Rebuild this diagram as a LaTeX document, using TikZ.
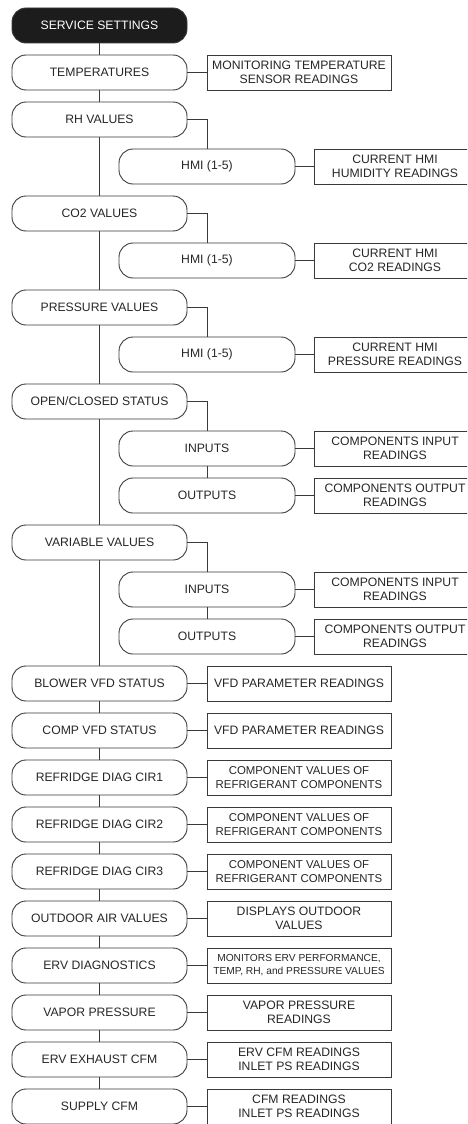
\documentclass[tikz,border=0pt]{standalone}
\usepackage{fontspec}
\setmainfont{Liberation Sans}
\usepackage{xcolor}
\usetikzlibrary{positioning}
\definecolor{svcline}{HTML}{3A3A3A}
\definecolor{svcdark}{HTML}{1C1C1C}
\tikzset{
  menu/.style={draw=svcline, line width=0.9pt, rounded corners=14pt, minimum width=175pt, minimum height=35pt, inner sep=0pt, outer sep=0pt, align=center, text=black!85, font=\fontsize{12.2}{14.5}\selectfont},
  topmenu/.style={menu, fill=svcdark, text=white},
  submenu/.style={menu, minimum width=176pt},
  info/.style={draw=svcline, line width=0.9pt, minimum width=184pt, minimum height=35pt, inner sep=0pt, outer sep=0pt, align=center, text=black!85, font=\fontsize{12.2}{14.5}\selectfont},
  smallinfo/.style={info, font=\fontsize{11.4}{13.7}\selectfont},
  tinyinfo/.style={info, font=\fontsize{10.2}{13}\selectfont},
  subinfo/.style={info, minimum width=162pt},
  link/.style={draw=svcline, line width=0.9pt}
}

\begin{document}
\begin{tikzpicture}
  \useasboundingbox (0,0) rectangle (467pt,-1124pt);
  \clip (0,0) rectangle (467pt,-1124pt);

  % main column
  \node[topmenu] (svc) at (99.5pt,-25.5pt) {SERVICE SETTINGS};
  \node[menu, below=12pt of svc] (temps) {TEMPERATURES};
  \node[info, right=20pt of temps] (tempsR) {MONITORING TEMPERATURE\\SENSOR READINGS};

  \node[menu, below=12pt of temps] (rh) {RH VALUES};
  \node[submenu, below=12pt of rh, xshift=107.5pt] (rhHmi) {HMI (1-5)};
  \node[subinfo, right=19pt of rhHmi] (rhHmiR) {CURRENT HMI\\HUMIDITY READINGS};

  \node[menu, below=12pt of rhHmi, xshift=-107.5pt] (co2) {CO2 VALUES};
  \node[submenu, below=12pt of co2, xshift=107.5pt] (co2Hmi) {HMI (1-5)};
  \node[subinfo, right=19pt of co2Hmi] (co2HmiR) {CURRENT HMI\\CO2 READINGS};

  \node[menu, below=12pt of co2Hmi, xshift=-107.5pt] (pres) {PRESSURE VALUES};
  \node[submenu, below=12pt of pres, xshift=107.5pt] (presHmi) {HMI (1-5)};
  \node[subinfo, right=19pt of presHmi] (presHmiR) {CURRENT HMI\\PRESSURE READINGS};

  \node[menu, below=12pt of presHmi, xshift=-107.5pt] (oc) {OPEN/CLOSED STATUS};
  \node[submenu, below=12pt of oc, xshift=107.5pt] (ocIn) {INPUTS};
  \node[subinfo, right=19pt of ocIn] (ocInR) {COMPONENTS INPUT\\READINGS};
  \node[submenu, below=12pt of ocIn] (ocOut) {OUTPUTS};
  \node[subinfo, right=19pt of ocOut] (ocOutR) {COMPONENTS OUTPUT\\READINGS};

  \node[menu, below=12pt of ocOut, xshift=-107.5pt] (var) {VARIABLE VALUES};
  \node[submenu, below=12pt of var, xshift=107.5pt] (varIn) {INPUTS};
  \node[subinfo, right=19pt of varIn] (varInR) {COMPONENTS INPUT\\READINGS};
  \node[submenu, below=12pt of varIn] (varOut) {OUTPUTS};
  \node[subinfo, right=19pt of varOut] (varOutR) {COMPONENTS OUTPUT\\READINGS};

  \node[menu, below=12pt of varOut, xshift=-107.5pt] (blower) {BLOWER VFD STATUS};
  \node[info, right=20pt of blower] (blowerR) {VFD PARAMETER READINGS};
  \node[menu, below=12pt of blower] (comp) {COMP VFD STATUS};
  \node[info, right=20pt of comp] (compR) {VFD PARAMETER READINGS};
  \node[menu, below=12pt of comp] (cirA) {REFRIDGE DIAG CIR1};
  \node[smallinfo, right=20pt of cirA] (cirAR) {COMPONENT VALUES OF\\REFRIGERANT COMPONENTS};
  \node[menu, below=12pt of cirA] (cirB) {REFRIDGE DIAG CIR2};
  \node[smallinfo, right=20pt of cirB] (cirBR) {COMPONENT VALUES OF\\REFRIGERANT COMPONENTS};
  \node[menu, below=12pt of cirB] (cirC) {REFRIDGE DIAG CIR3};
  \node[smallinfo, right=20pt of cirC] (cirCR) {COMPONENT VALUES OF\\REFRIGERANT COMPONENTS};
  \node[menu, below=12pt of cirC] (oa) {OUTDOOR AIR VALUES};
  \node[info, right=20pt of oa] (oaR) {DISPLAYS OUTDOOR\\VALUES};
  \node[menu, below=12pt of oa] (erv) {ERV DIAGNOSTICS};
  \node[tinyinfo, right=20pt of erv] (ervR) {MONITORS ERV PERFORMANCE,\\TEMP, RH, and PRESSURE VALUES};
  \node[menu, below=12pt of erv] (vap) {VAPOR PRESSURE};
  \node[info, right=20pt of vap] (vapR) {VAPOR PRESSURE\\READINGS};
  \node[menu, below=12pt of vap] (exh) {ERV EXHAUST CFM};
  \node[info, right=20pt of exh] (exhR) {ERV CFM READINGS\\INLET PS READINGS};
  \node[menu, below=12pt of exh] (sup) {SUPPLY CFM};
  \node[info, right=20pt of sup] (supR) {CFM READINGS\\INLET PS READINGS};

  % trunk
  \draw[link] (svc) -- (temps);
  \draw[link] (temps) -- (rh);
  \draw[link] (rh) -- (co2);
  \draw[link] (co2) -- (pres);
  \draw[link] (pres) -- (oc);
  \draw[link] (oc) -- (var);
  \draw[link] (var) -- (blower);
  \draw[link] (blower) -- (comp);
  \draw[link] (comp) -- (cirA);
  \draw[link] (cirA) -- (cirB);
  \draw[link] (cirB) -- (cirC);
  \draw[link] (cirC) -- (oa);
  \draw[link] (oa) -- (erv);
  \draw[link] (erv) -- (vap);
  \draw[link] (vap) -- (exh);
  \draw[link] (exh) -- (sup);

  % branches
  \draw[link] (rh.east) -| (rhHmi.north);
  \draw[link] (co2.east) -| (co2Hmi.north);
  \draw[link] (pres.east) -| (presHmi.north);
  \draw[link] (oc.east) -| (ocIn.north);
  \draw[link] (ocIn) -- (ocOut);
  \draw[link] (var.east) -| (varIn.north);
  \draw[link] (varIn) -- (varOut);

  % readings
  \draw[link] (temps) -- (tempsR);
  \draw[link] (rhHmi) -- (rhHmiR);
  \draw[link] (co2Hmi) -- (co2HmiR);
  \draw[link] (presHmi) -- (presHmiR);
  \draw[link] (ocIn) -- (ocInR);
  \draw[link] (ocOut) -- (ocOutR);
  \draw[link] (varIn) -- (varInR);
  \draw[link] (varOut) -- (varOutR);
  \draw[link] (blower) -- (blowerR);
  \draw[link] (comp) -- (compR);
  \draw[link] (cirA) -- (cirAR);
  \draw[link] (cirB) -- (cirBR);
  \draw[link] (cirC) -- (cirCR);
  \draw[link] (oa) -- (oaR);
  \draw[link] (erv) -- (ervR);
  \draw[link] (vap) -- (vapR);
  \draw[link] (exh) -- (exhR);
  \draw[link] (sup) -- (supR);
\end{tikzpicture}
\end{document}
